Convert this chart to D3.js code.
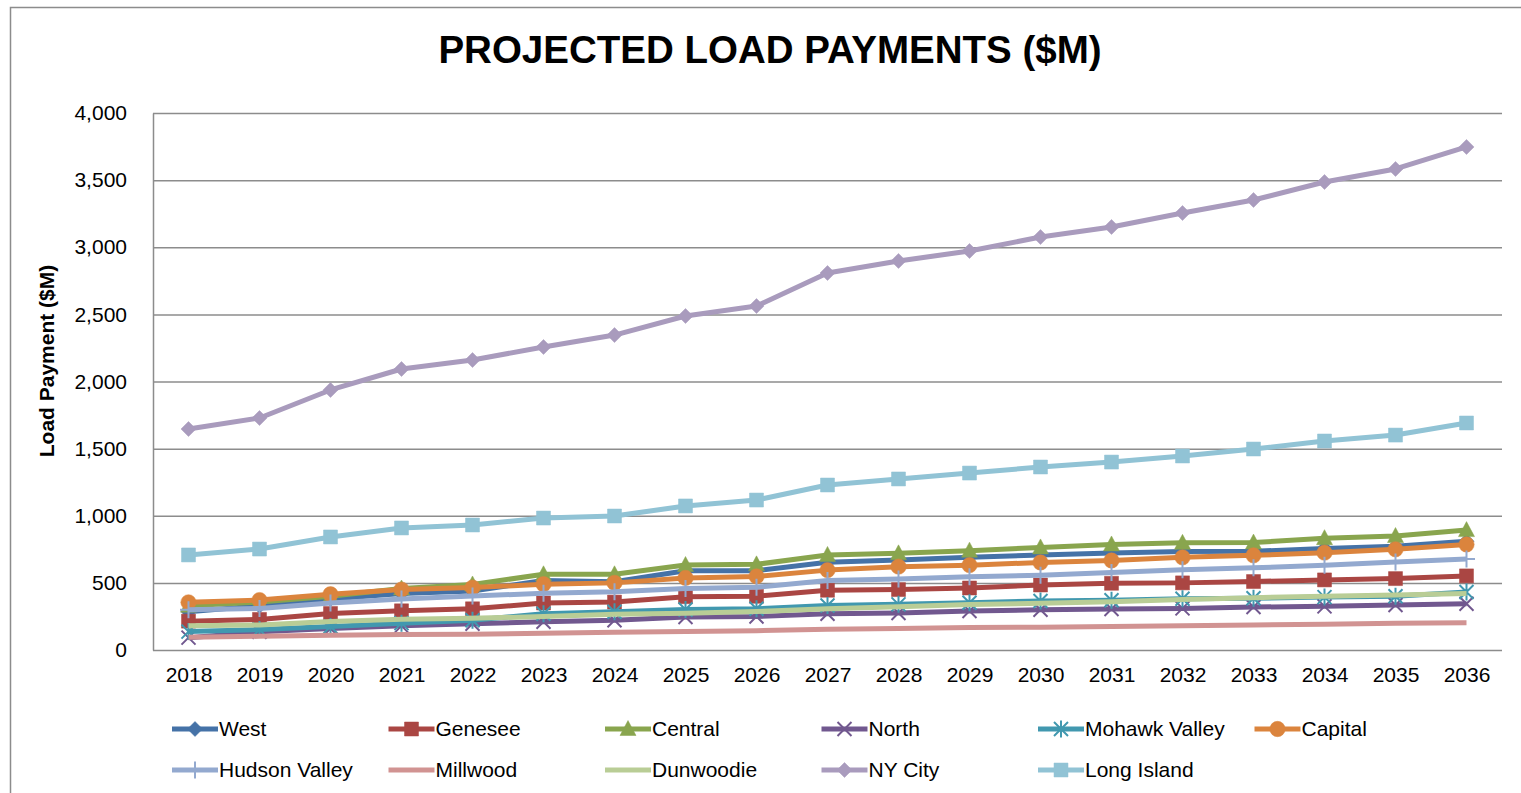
<!DOCTYPE html>
<html>
<head>
<meta charset="utf-8">
<script src="https://cdn.jsdelivr.net/npm/d3@7"></script>
<style>
  body { margin: 0; background: #fff; }
  svg { display: block; font-family: "Liberation Sans", Arial, sans-serif; }
  .grid line { stroke: #8c8c8c; stroke-width: 1.5; }
  .tick text { font-size: 21px; fill: #000; }
</style>
</head>
<body>
<svg width="1521" height="793"></svg>
<script>
var years = ["2018", "2019", "2020", "2021", "2022", "2023", "2024", "2025", "2026", "2027",
             "2028", "2029", "2030", "2031", "2032", "2033", "2034", "2035", "2036"];

var yTicks = [0, 500, 1000, 1500, 2000, 2500, 3000, 3500, 4000];

var west       = [285, 330, 380, 420, 440, 518, 508, 590, 591, 653, 670, 690, 708, 722, 733, 735, 757, 772, 810];
var genesee    = [215, 228, 272, 292, 307, 350, 357, 397, 400, 445, 450, 462, 484, 497, 500, 510, 522, 532, 552];
var central    = [330, 358, 400, 458, 488, 564, 564, 633, 638, 708, 720, 740, 764, 786, 798, 800, 833, 849, 893];
var north      = [92, 135, 160, 180, 195, 211, 222, 246, 250, 270, 275, 290, 300, 305, 310, 320, 325, 335, 345];
var mohawk     = [137, 152, 175, 200, 222, 270, 285, 302, 307, 332, 340, 352, 365, 370, 382, 385, 394, 400, 432];
var capital    = [355, 372, 415, 450, 465, 490, 500, 537, 548, 595, 621, 632, 652, 667, 690, 705, 725, 750, 786];
var hudson     = [300, 310, 350, 380, 402, 422, 434, 459, 467, 517, 528, 545, 557, 577, 597, 612, 632, 656, 677];
var millwood   = [95, 102, 110, 115, 117, 124, 132, 137, 144, 155, 160, 167, 170, 175, 180, 186, 192, 200, 203];
var dunwoodie  = [180, 186, 212, 229, 236, 250, 266, 274, 286, 308, 323, 338, 348, 360, 376, 390, 400, 410, 420];
var nyCity     = [1646, 1728, 1937, 2093, 2160, 2257, 2346, 2488, 2562, 2808, 2898, 2972, 3076, 3151, 3255, 3352, 3486, 3583, 3747];
var longIsland = [708, 752, 842, 909, 931, 983, 998, 1073, 1117, 1229, 1274, 1318, 1363, 1400, 1445, 1497, 1557, 1601, 1691];

var series = [
  { name: "West",          values: west,       color: "#4572a7", marker: "diamond" },
  { name: "Genesee",       values: genesee,    color: "#aa4643", marker: "square" },
  { name: "Central",       values: central,    color: "#89a54e", marker: "triangle" },
  { name: "North",         values: north,      color: "#71588f", marker: "x" },
  { name: "Mohawk Valley", values: mohawk,     color: "#4198af", marker: "star" },
  { name: "Capital",       values: capital,    color: "#db843d", marker: "circle" },
  { name: "Hudson Valley", values: hudson,     color: "#93a9cf", marker: "plus" },
  { name: "Millwood",      values: millwood,   color: "#d19392", marker: "none" },
  { name: "Dunwoodie",     values: dunwoodie,  color: "#b9cd96", marker: "none" },
  { name: "NY City",       values: nyCity,     color: "#a99bbd", marker: "diamond" },
  { name: "Long Island",   values: longIsland, color: "#91c3d5", marker: "square" }
];

var svg = d3.select("svg");

var margin = { left: 153, right: 1502, top: 113, bottom: 650 };

var x = d3.scalePoint()
    .domain(years)
    .range([margin.left, margin.right])
    .padding(0.5);

var y = d3.scaleLinear()
    .domain([0, 4000])
    .range([margin.bottom, margin.top]);

// chart frame (runs off the right and bottom of the picture)
svg.append("rect")
    .attr("x", 10.5)
    .attr("y", 7.5)
    .attr("width", 1600)
    .attr("height", 900)
    .attr("fill", "none")
    .attr("stroke", "#8c8c8c")
    .attr("stroke-width", 1.5);

svg.append("text")
    .attr("x", 770)
    .attr("y", 63)
    .attr("text-anchor", "middle")
    .attr("font-size", 38.5)
    .attr("font-weight", "bold")
    .text("PROJECTED LOAD PAYMENTS ($M)");

svg.append("text")
    .attr("transform", "translate(54,361) rotate(-90)")
    .attr("text-anchor", "middle")
    .attr("font-size", 21)
    .attr("font-weight", "bold")
    .text("Load Payment ($M)");

// gridlines
svg.append("g")
    .attr("class", "grid")
    .attr("transform", "translate(" + margin.left + ",0)")
    .call(d3.axisRight(y).tickValues(yTicks).tickSize(margin.right - margin.left).tickFormat(""))
    .select(".domain").remove();

var yAxis = svg.append("g")
    .attr("transform", "translate(" + margin.left + ",0)")
    .call(d3.axisLeft(y).tickValues(yTicks).tickSize(0).tickPadding(26).tickFormat(d3.format(",")));
yAxis.select(".domain").attr("stroke", "#8c8c8c").attr("stroke-width", 1.5);

var xAxis = svg.append("g")
    .attr("transform", "translate(0," + margin.bottom + ")")
    .call(d3.axisBottom(x).tickSize(0).tickPadding(17));
xAxis.select(".domain").remove();

function markerPath(type) {
  switch (type) {
    case "diamond":  return "M0,-7.5L7.5,0L0,7.5L-7.5,0Z";
    case "square":   return "M-7,-7H7V7H-7Z";
    case "triangle": return "M0,-8.5L8,6.5H-8Z";
    case "circle":   return d3.symbol(d3.symbolCircle, 185)();
    case "x":        return "M-7,-7L7,7M7,-7L-7,7";
    case "star":     return "M-7,-7L7,7M7,-7L-7,7M0,-8.5V8.5";
    case "plus":     return "M0,-8.5V8.5M-8.5,0H8.5";
  }
  return null;
}

function drawMarker(sel, s) {
  if (s.marker == "none") return;
  var open = s.marker == "x" || s.marker == "star" || s.marker == "plus";
  sel.append("path")
      .attr("d", markerPath(s.marker))
      .attr("fill", open ? "none" : s.color)
      .attr("stroke", s.color)
      .attr("stroke-width", open ? 2 : 0.5);
}

var line = d3.line()
    .x(function(d, i) { return x(years[i]); })
    .y(function(d) { return y(d); });

series.forEach(function(s) {
  var g = svg.append("g");
  g.append("path")
      .attr("d", line(s.values))
      .attr("fill", "none")
      .attr("stroke", s.color)
      .attr("stroke-width", 5)
      .attr("stroke-linejoin", "round");
  g.selectAll("g")
      .data(s.values)
    .enter().append("g")
      .attr("transform", function(d, i) { return "translate(" + x(years[i]) + "," + y(d) + ")"; })
      .each(function() { drawMarker(d3.select(this), s); });
});

// legend, six columns over two rows
var legend = svg.append("g")
  .selectAll("g")
    .data(series)
  .enter().append("g")
    .attr("transform", function(d, i) {
      return "translate(" + (172 + (i % 6) * 216.5) + "," + (729 + Math.floor(i / 6) * 41) + ")";
    });

legend.append("line")
    .attr("x1", 0)
    .attr("x2", 46)
    .attr("stroke", function(d) { return d.color; })
    .attr("stroke-width", 5);

legend.append("g")
    .attr("transform", "translate(23,0)")
    .each(function(d) { drawMarker(d3.select(this), d); });

legend.append("text")
    .attr("x", 47)
    .attr("dy", "0.35em")
    .attr("font-size", 21)
    .text(function(d) { return d.name; });
</script>
</body>
</html>
